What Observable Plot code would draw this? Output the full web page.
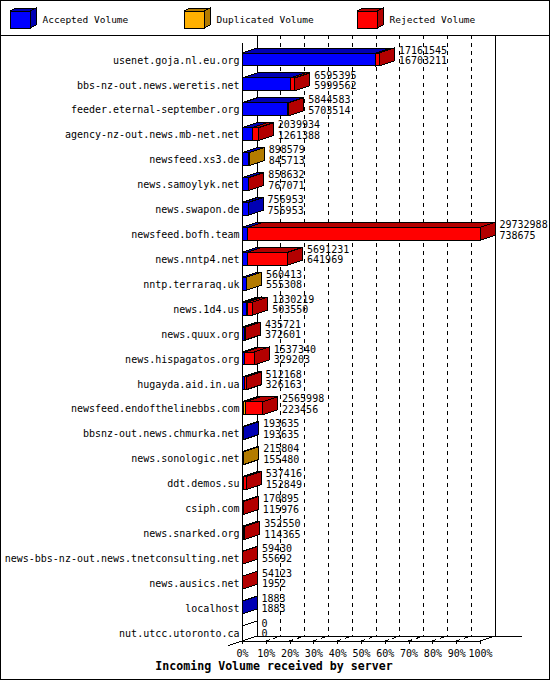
<!DOCTYPE html>
<html><head><meta charset="utf-8">
<script src="https://cdn.jsdelivr.net/npm/d3@7"></script>
<script src="https://cdn.jsdelivr.net/npm/@observablehq/plot@0.6"></script>
<style>
html,body{margin:0;padding:0;background:#fff;}
#chart svg{display:block;}
#chart svg line,#chart svg polygon,#chart svg rect,#chart svg path{shape-rendering:crispEdges;}
</style></head><body><div id="chart"></div>
<script>
const hosts = [
  "usenet.goja.nl.eu.org","bbs-nz-out.news.weretis.net","feeder.eternal-september.org",
  "agency-nz-out.news.mb-net.net","newsfeed.xs3.de","news.samoylyk.net","news.swapon.de",
  "newsfeed.bofh.team","news.nntp4.net","nntp.terraraq.uk","news.1d4.us","news.quux.org",
  "news.hispagatos.org","hugayda.aid.in.ua","newsfeed.endofthelinebbs.com",
  "bbsnz-out.news.chmurka.net","news.sonologic.net","ddt.demos.su","csiph.com",
  "news.snarked.org","news-bbs-nz-out.news.tnetconsulting.net","news.ausics.net",
  "localhost","nut.utcc.utoronto.ca"
];
const totalVolume = [17161545,6595395,5844583,2039934,898579,858632,756953,29732988,5691231,560413,1330219,435721,1537340,512168,2565998,193635,215804,537416,170895,352550,59430,54123,1883,0];
const acceptedVolume = [16703211,5999562,5703514,1261388,845713,767071,756953,738675,641969,555308,503550,372601,329203,326163,223456,193635,155480,152849,115976,114365,55692,1952,1883,0];
const duplicatedVolume = [0,0,0,0,52866,0,0,0,0,5105,200000,0,0,0,250000,0,60324,0,0,50000,0,0,0,0];
const rejectedVolume = [458334,595833,141069,778546,0,91561,0,28994313,5049262,0,626669,63120,1208137,186005,2092542,0,0,384567,54919,188185,3738,52171,0,0];
const seriesNames = ["Accepted Volume","Duplicated Volume","Rejected Volume"];
const seriesColors = ["#0000ff","#ffb000","#ff0000"];
const tickPercents = [0,10,20,30,40,50,60,70,80,90,100];
const chartTitle = "Incoming Volume received by server";

const W = 550, H = 680, LEGEND_H = 35;
const DX = 15, DY = 5, FACE_TOP = 10, FACE_BOTTOM = 2;
const FONT = "'DejaVu Sans Mono', monospace";

const maxTotal = d3.max(totalVolume);
const seriesValues = [acceptedVolume, duplicatedVolume, rejectedVolume];
const segments = [];
hosts.forEach((h, i) => {
  let c = 0;
  seriesValues.forEach((vals, s) => {
    const v = vals[i];
    segments.push({host: h, series: seriesNames[s], x1: c, x2: c + v, v});
    c += v;
  });
});
const rows = hosts.map((h, i) => ({host: h, total: totalVolume[i], accepted: acceptedVolume[i]}));
const tickValues = tickPercents.map(p => p / 100 * maxTotal);

function bw(y) { return typeof y.bandwidth === "function" ? y.bandwidth() : 24.9; }

const grid = (index, scales) => {
  const {x, y} = scales;
  const g = d3.create("svg:g").attr("fill", "none").attr("stroke", "#000");
  const [top, floor] = y.range();
  const [xl, xr] = x.range();
  const ln = (a, b, c, d, dash) => {
    const l = g.append("line").attr("x1", a).attr("y1", b).attr("x2", c).attr("y2", d);
    if (dash) l.attr("stroke-dasharray", "4,4");
  };
  tickValues.forEach((v, i) => {
    if (i === 0 || i === tickValues.length - 1) return;
    const tx = x(v);
    ln(tx + DX, LEGEND_H, tx + DX, floor - DY, true);
    ln(tx, floor, tx + DX, floor - DY, true);
  });
  ln(xl + DX, LEGEND_H, xl + DX, floor - DY);
  ln(xr + DX, LEGEND_H, xr + DX, floor - DY);
  ln(xl, top, xl, floor);
  ln(xl, floor, xr, floor);
  ln(xl + DX, floor - DY, xr + DX + 27, floor - DY);
  ln(xl + DX, floor - DY, xl - 14, floor + 14 * DY / DX);
  ln(xr, floor, xr + DX, floor - DY);
  return g.node();
};

function faces(seriesName) {
  const data = segments.filter(d => d.series === seriesName && d.v > 0);
  return (index, scales) => {
    const {x, y, color} = scales;
    const g = d3.create("svg:g").attr("stroke", "#000");
    const b = bw(y);
    const dark = d3.color(color(seriesName)).darker(1).formatHex();
    for (const d of data) {
      const a = x(d.x1), e = x(d.x2), t = y(d.host) + FACE_TOP, bo = y(d.host) + b - FACE_BOTTOM;
      g.append("polygon").attr("points", [[a, t], [a + DX, t - DY], [e + DX, t - DY], [e, t]].join(" ")).attr("fill", dark);
      g.append("polygon").attr("points", [[e, t], [e + DX, t - DY], [e + DX, bo - DY], [e, bo]].join(" ")).attr("fill", dark);
    }
    return g.node();
  };
}

const zeroBars = (index, scales) => {
  const {x, y} = scales;
  const g = d3.create("svg:g").attr("stroke", "#000");
  rows.filter(r => r.total === 0).forEach(r => {
    const a = x(0), t = y(r.host) + FACE_TOP;
    g.append("line").attr("x1", a).attr("y1", t).attr("x2", a + DX).attr("y2", t - DY);
  });
  return g.node();
};

const chrome = (index, scales) => {
  const {color} = scales;
  const g = d3.create("svg:g").attr("text-anchor", "start");
  g.append("rect").attr("x", 0.5).attr("y", 0.5).attr("width", W - 1).attr("height", H - 1)
    .attr("fill", "none").attr("stroke", "#000");
  g.append("line").attr("x1", 0).attr("x2", W).attr("y1", LEGEND_H + 0.5).attr("y2", LEGEND_H + 0.5).attr("stroke", "#000");
  seriesNames.forEach((s, i) => {
    const bx = 10 + Math.round(i * 173.7), by = 11, w = 20, h = 17, ldx = 6, ldy = 3;
    const c = color(s), dark = d3.color(c).darker(1).formatHex();
    g.append("polygon").attr("points", [[bx, by], [bx + ldx, by - ldy], [bx + w + ldx, by - ldy], [bx + w, by]].join(" "))
      .attr("fill", dark).attr("stroke", "#000");
    g.append("polygon").attr("points", [[bx + w, by], [bx + w + ldx, by - ldy], [bx + w + ldx, by + h - ldy], [bx + w, by + h]].join(" "))
      .attr("fill", dark).attr("stroke", "#000");
    g.append("rect").attr("x", bx).attr("y", by).attr("width", w).attr("height", h).attr("fill", c).attr("stroke", "#000");
    g.append("text").attr("x", bx + 32.5).attr("y", 20).attr("dy", "0.35em").attr("text-anchor", "start")
      .attr("font-family", FONT).attr("font-size", 9.5).attr("fill", "#000").text(s);
  });
  g.append("text").attr("x", W / 2 - 1).attr("y", 666).attr("dy", "0.35em").attr("text-anchor", "middle")
    .attr("font-family", FONT).attr("font-weight", "bold").attr("font-size", 11.6).attr("fill", "#000").text(chartTitle);
  return g.node();
};

const marks = [grid];
seriesNames.forEach(s => {
  marks.push(Plot.barX(segments.filter(d => d.series === s && d.v > 0), {
    x1: "x1", x2: "x2", y: "host", fill: "series", stroke: "#000", strokeWidth: 1,
    insetTop: FACE_TOP, insetBottom: FACE_BOTTOM
  }));
  marks.push(faces(s));
});
marks.push(zeroBars);
marks.push(Plot.axisY({tickSize: 0, tickPadding: 3, label: null, dy: 4.5, fill: "#000"}));
marks.push(Plot.axisX({ticks: tickValues, tickFormat: d => Math.round(d / maxTotal * 100) + "%", tickSize: 3, tickPadding: 5, label: null, anchor: "bottom"}));
marks.push(Plot.text(rows, {x: "total", y: "host", text: d => String(d.total), textAnchor: "start", dx: DX + 4, dy: -5.5, fill: "#000"}));
marks.push(Plot.text(rows, {x: "total", y: "host", text: d => String(d.accepted), textAnchor: "start", dx: DX + 4, dy: 5, fill: "#000"}));
marks.push(chrome);

const plot = Plot.plot({
  width: W, height: H,
  marginLeft: 242, marginRight: 70, marginTop: 43, marginBottom: 39,
  x: {domain: [0, maxTotal], range: [242, 480]},
  y: {type: "band", domain: hosts, range: [43, 641], padding: 0, round: false},
  color: {domain: seriesNames, range: seriesColors},
  style: {fontFamily: FONT, fontSize: "10px", background: "#fff", color: "#000"},
  marks
});
document.getElementById("chart").appendChild(plot);
</script></body></html>
